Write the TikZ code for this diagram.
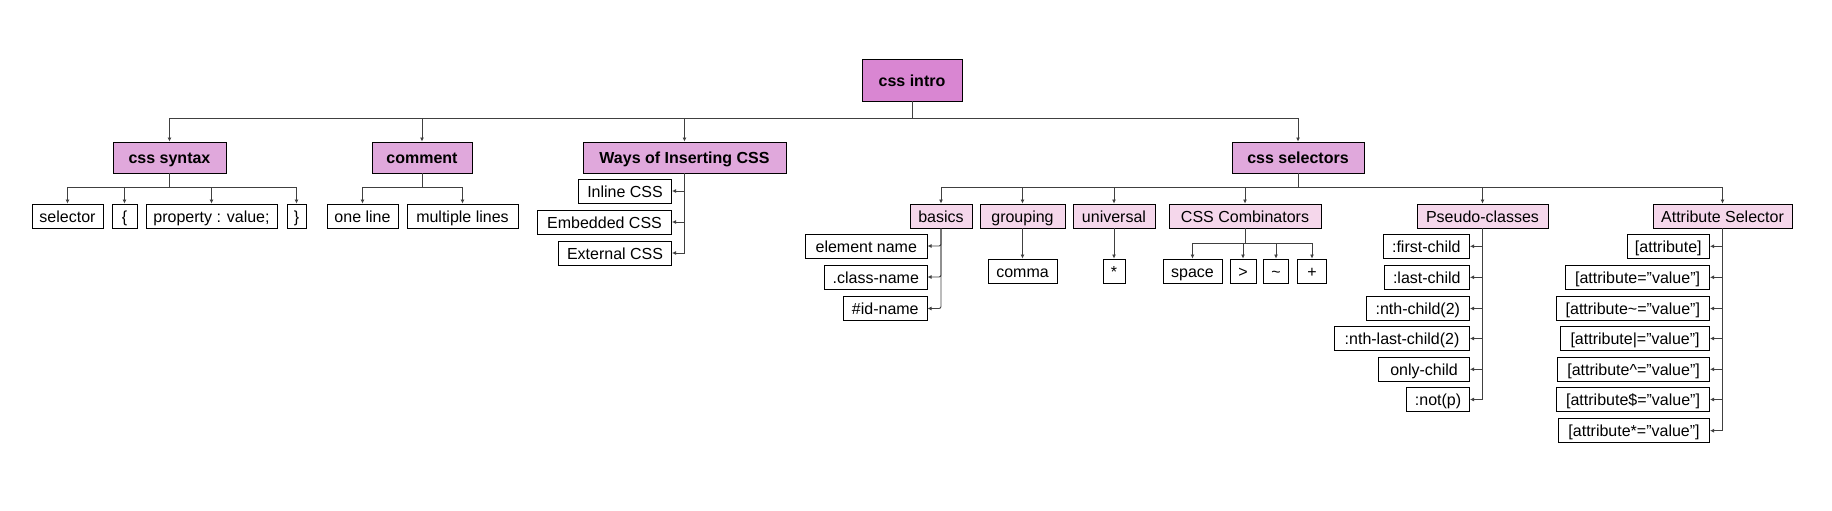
\documentclass[tikz,border=0pt]{standalone}
\usepackage{fontspec}
\setmainfont{Liberation Sans}
\usetikzlibrary{arrows.meta}

\definecolor{rootpink}{HTML}{D986D2}
\definecolor{topicpink}{HTML}{E0A8DC}
\definecolor{subpink}{HTML}{F5D7EB}
\definecolor{linkgray}{HTML}{404040}

\tikzset{
	box/.style = {draw = black, line width = 0.9pt, inner sep = 0pt, text height = 12pt, text depth = 0pt, font = \fontsize{16}{19}\selectfont},
	rootbox/.style = {box, fill = rootpink, minimum height = 42, font = \fontsize{16}{19}\selectfont\bfseries},
	topic/.style = {box, fill = topicpink, minimum height = 31, font = \fontsize{16}{19}\selectfont\bfseries},
	sub/.style = {box, fill = subpink, minimum height = 24},
	leaf/.style = {box, fill = white, minimum height = 24},
	link/.style = {draw = linkgray, line width = 0.9pt, -{Latex[length = 4pt, width = 4pt]}}
}

\begin{document}
\begin{tikzpicture}[x = 1pt, y = -1pt]
	\useasboundingbox (0,0) rectangle (1832,511);
	
	% root and topics
	\node [rootbox, minimum width = 100] (intro) at (912,80) {css intro};
	\node [topic, minimum width = 113] (syntax) at (169.5,157.5) {css syntax};
	\node [topic, minimum width = 100] (comment) at (422,157.5) {comment};
	\node [topic, minimum width = 203] (ways) at (684.5,157.5) {Ways of Inserting CSS};
	\node [topic, minimum width = 132] (selectors) at (1298,157.5) {css selectors};
	
	\foreach \t in {syntax, comment, ways, selectors}
		\draw [link] (intro.south) -- ++(0,17) -| (\t.north);
	
	% css syntax
	\node [leaf, minimum width = 71] (selector) at (67.5,216) {selector};
	\node [leaf, minimum width = 25] (lbrace) at (124.5,216) {\{};
	\node [leaf, minimum width = 131] (property) at (211.5,216) {property : value;};
	\node [leaf, minimum width = 19] (rbrace) at (296.5,216) {\}};
	
	\foreach \t in {selector, lbrace, property, rbrace}
		\draw [link] (syntax.south) -- ++(0,14) -| (\t.north);
	
	% comment
	\node [leaf, minimum width = 71] (oneline) at (362.5,216) {one line};
	\node [leaf, minimum width = 111] (multilines) at (462.5,216) {multiple lines};
	
	\foreach \t in {oneline, multilines}
		\draw [link] (comment.south) -- ++(0,14) -| (\t.north);
	
	% ways of inserting
	\node [leaf, minimum width = 93, anchor = east] (inline) at (672,191) {Inline CSS};
	\node [leaf, minimum width = 134, anchor = east] (embedded) at (672,222) {Embedded CSS};
	\node [leaf, minimum width = 113, anchor = east] (external) at (672,253) {External CSS};
	
	\foreach \t in {inline, embedded, external}
		\draw [link] (ways.south) |- (\t.east);
	
	% css selectors
	\node [sub, minimum width = 62] (basics) at (941,216) {basics};
	\node [sub, minimum width = 85] (grouping) at (1022.5,216) {grouping};
	\node [sub, minimum width = 82] (universal) at (1114,216) {universal};
	\node [sub, minimum width = 152] (combinators) at (1245,216) {CSS Combinators};
	\node [sub, minimum width = 131] (pseudo) at (1482.5,216) {Pseudo-classes};
	\node [sub, minimum width = 139] (attribute) at (1722.5,216) {Attribute Selector};
	
	\foreach \t in {basics, grouping, universal, combinators, pseudo, attribute}
		\draw [link] (selectors.south) -- ++(0,14) -| (\t.north);
	
	% basics
	\node [leaf, minimum width = 121.5, anchor = east] (element) at (927.5,246) {element name};
	\node [leaf, minimum width = 102.5, anchor = east] (class) at (927.5,277) {.class-name};
	\node [leaf, minimum width = 83.5, anchor = east] (idname) at (927.5,308.5) {\#id-name};
	
	\foreach \t in {element, class, idname}
		\draw [link, rounded corners = 2pt] (basics.south) |- (\t.east);
	
	% grouping, universal
	\node [leaf, minimum width = 69] (comma) at (1022.5,271) {comma};
	\node [leaf, minimum width = 22] (star) at (1114,271) {*};
	
	\draw [link] (grouping.south) -- (comma.north);
	\draw [link] (universal.south) -- (star.north);
	
	% combinators
	\node [leaf, minimum width = 59] (space) at (1192.5,271) {space};
	\node [leaf, minimum width = 26] (child) at (1243,271) {>};
	\node [leaf, minimum width = 24.5] (sibling) at (1276,271) {\textasciitilde};
	\node [leaf, minimum width = 28.5] (adjacent) at (1312,271) {+};
	
	\foreach \t in {space, child, sibling, adjacent}
		\draw [link] (combinators.south) -- ++(0,15) -| (\t.north);
	
	% pseudo-classes
	\foreach \n/\w/\y/\t in {pc1/86.5/246.3/{:first-child}, pc2/85.5/277.3/{:last-child},
			pc3/103.5/308.5/{:nth-child(2)}, pc4/135/338.5/{:nth-last-child(2)},
			pc5/91/369.3/{only-child}, pc6/63/399.5/{:not(p)}}
	{
		\node [leaf, minimum width = \w, anchor = east] (\n) at (1470,\y) {\t};
		\draw [link] (pseudo.south) |- (\n.east);
	}
	
	% attribute selectors
	\foreach \n/\w/\y/\t in {as1/82.5/246.3/{[attribute]}, as2/144/277.3/{[attribute="value"]},
			as3/153.5/308.5/{[attribute\textasciitilde="value"]}, as4/149/338.5/{[attribute|="value"]},
			as5/152/369.3/{[attribute\textasciicircum="value"]}, as6/153/399.5/{[attribute\$="value"]},
			as7/151/430.7/{[attribute*="value"]}}
	{
		\node [leaf, minimum width = \w, anchor = east] (\n) at (1710,\y) {\t};
		\draw [link] (attribute.south) |- (\n.east);
	}
\end{tikzpicture}
\end{document}
